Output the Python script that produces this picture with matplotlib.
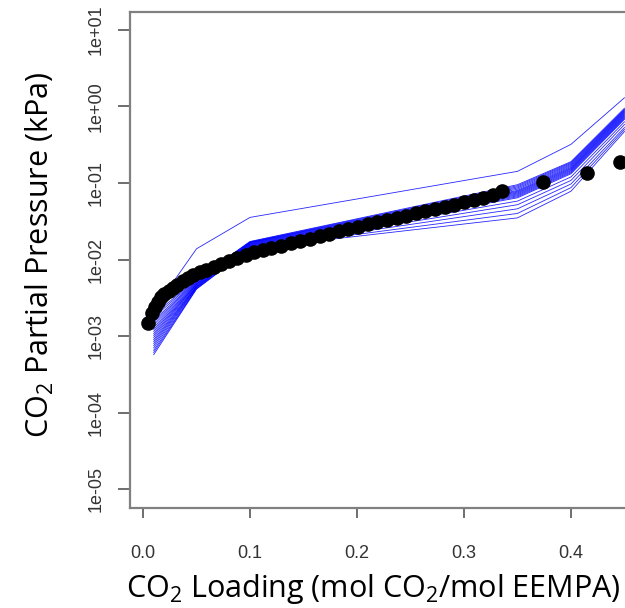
import matplotlib
matplotlib.use("Agg")
import matplotlib.pyplot as plt

# experimental points
loading = [0.005, 0.008, 0.011, 0.014, 0.017, 0.020, 0.024, 0.028, 0.032, 0.037,
           0.042, 0.047, 0.053, 0.059, 0.066, 0.073, 0.080, 0.088, 0.096, 0.104,
           0.112, 0.120, 0.129, 0.138, 0.147, 0.156, 0.165, 0.174, 0.183, 0.192,
           0.201, 0.210, 0.219, 0.228, 0.237, 0.246, 0.255, 0.264, 0.273, 0.282,
           0.291, 0.300, 0.309, 0.318, 0.327, 0.336, 0.374, 0.415, 0.446]
pressure = [1.5e-3, 2.0e-3, 2.4e-3, 2.8e-3, 3.2e-3, 3.5e-3, 3.9e-3, 4.3e-3, 4.7e-3, 5.2e-3,
            5.7e-3, 6.2e-3, 6.8e-3, 7.4e-3, 8.1e-3, 8.8e-3, 9.6e-3, 1.04e-2, 1.16e-2, 1.24e-2,
            1.33e-2, 1.42e-2, 1.52e-2, 1.63e-2, 1.75e-2, 1.88e-2, 2.02e-2, 2.17e-2, 2.33e-2, 2.50e-2,
            2.68e-2, 2.87e-2, 3.07e-2, 3.28e-2, 3.50e-2, 3.74e-2, 4.00e-2, 4.27e-2, 4.56e-2, 4.87e-2,
            5.20e-2, 5.56e-2, 5.95e-2, 6.30e-2, 7.00e-2, 7.8e-2, 0.102, 0.137, 0.186]

# model curves, values at each loading knot
knots = [0.01, 0.05, 0.10, 0.35, 0.40, 0.45]
p_010 = [1.9e-3, 1.75e-3, 1.6e-3, 1.5e-3, 1.4e-3, 1.3e-3, 1.22e-3, 1.15e-3, 1.08e-3, 1.02e-3,
         9.6e-4, 9.0e-4, 8.5e-4, 8.0e-4, 7.5e-4, 7.0e-4, 6.5e-4, 6.1e-4, 5.7e-4]
p_050 = [5.5e-3, 5.4e-3, 5.3e-3, 5.2e-3, 5.1e-3, 5.0e-3, 4.9e-3, 4.8e-3, 4.75e-3, 4.7e-3,
         4.6e-3, 4.5e-3, 4.45e-3, 4.4e-3, 4.35e-3, 4.3e-3, 4.2e-3, 4.15e-3, 4.1e-3]
p_100 = [0.0172, 0.0170, 0.0168, 0.0167, 0.0166, 0.0164, 0.0162, 0.0160, 0.0158, 0.0156,
         0.0154, 0.0152, 0.0150, 0.0148, 0.0146, 0.0144, 0.0142, 0.0140, 0.0139]
p_350 = [0.095, 0.092, 0.089, 0.086, 0.083, 0.080, 0.078, 0.076, 0.074, 0.072,
         0.070, 0.068, 0.066, 0.064, 0.058, 0.052, 0.046, 0.040, 0.035]
p_400 = [0.19, 0.185, 0.18, 0.175, 0.17, 0.165, 0.16, 0.156, 0.152, 0.148,
         0.144, 0.14, 0.136, 0.132, 0.12, 0.108, 0.097, 0.087, 0.078]
p_450 = [0.95, 0.92, 0.90, 0.88, 0.86, 0.84, 0.82, 0.80, 0.78, 0.76,
         0.74, 0.72, 0.70, 0.68, 0.63, 0.58, 0.53, 0.50, 0.47]
p_outlier = [2.2e-3, 0.0138, 0.0355, 0.142, 0.32, 1.30]

plt.rcParams["mathtext.default"] = "regular"

fig = plt.figure(figsize=(6.25, 6.08), dpi=100)
ax = fig.add_axes([130 / 625, 1 - 508 / 608, 495 / 625, 496 / 608])

curves = list(zip(p_010, p_050, p_100, p_350, p_400, p_450)) + [p_outlier]
for c in curves:
    ax.plot(knots, c, color="#0000ff", lw=0.6, alpha=0.85)

ax.plot(loading, pressure, "o", color="black", ms=9.5, mec="black")

ax.set_yscale("log")
ax.set_xlim(-0.01215, 0.4505)
ax.set_ylim(10 ** -5.248, 10 ** 1.235)

ax.set_xticks([0.0, 0.1, 0.2, 0.3, 0.4])
ax.set_xticklabels(["0.0", "0.1", "0.2", "0.3", "0.4"])
yt = [1e-5, 1e-4, 1e-3, 1e-2, 1e-1, 1e0, 1e1]
ax.set_yticks(yt)
ax.set_yticklabels(["1e-05", "1e-04", "1e-03", "1e-02", "1e-01", "1e+00", "1e+01"],
                   rotation=90, va="center")
ax.minorticks_off()

for lab in ax.get_xticklabels() + ax.get_yticklabels():
    lab.set_family("Liberation Sans")
    lab.set_fontsize(13)
    lab.set_color("#333333")

ax.tick_params(axis="x", length=7, width=1.2, color="#555555", pad=20)
ax.tick_params(axis="y", length=9, width=1.2, color="#555555", pad=9)

for s in ["left", "top", "bottom"]:
    ax.spines[s].set_color("#808080")
    ax.spines[s].set_linewidth(1.6)
ax.spines["right"].set_visible(False)

ax.set_xlabel("CO$_2$ Loading (mol CO$_2$/mol EEMPA)", family="Open Sans", fontsize=22, va="baseline")
ax.xaxis.set_label_coords(0.492, -0.1794)
ax.set_ylabel("CO$_2$ Partial Pressure (kPa)", family="Open Sans", fontsize=22)
ax.yaxis.set_label_coords(-0.15, 0.511)

fig.savefig("out.png", dpi=100)
